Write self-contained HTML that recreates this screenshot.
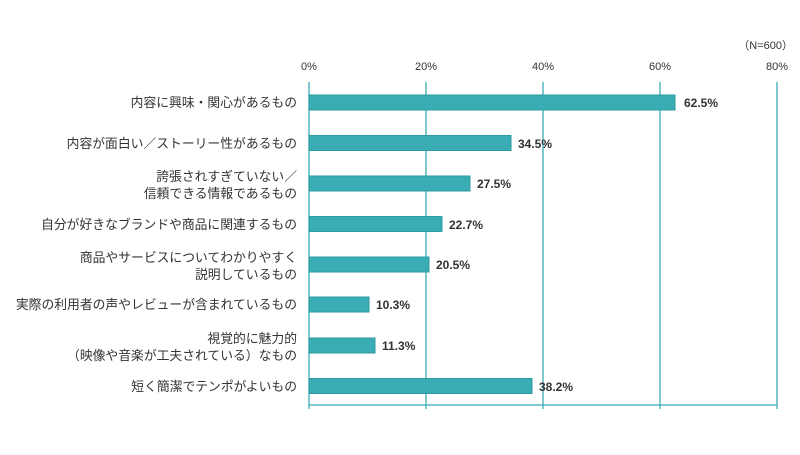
<!DOCTYPE html>
<html><head><meta charset="utf-8"><style>
body{margin:0;background:#fff;width:800px;height:450px;overflow:hidden;font-family:"Liberation Sans","Noto Sans CJK JP",sans-serif;}
</style></head><body>
<svg width="800" height="450" xmlns="http://www.w3.org/2000/svg" font-family="Liberation Sans, Noto Sans CJK JP, sans-serif">
<text x="793" y="49" font-size="11" fill="#333" text-anchor="end">（N=600）</text>
<g font-size="11" fill="#333" text-anchor="middle">
<text x="309" y="70">0%</text><text x="426" y="70">20%</text><text x="543" y="70">40%</text><text x="660" y="70">60%</text><text x="777" y="70">80%</text>
</g>
<g stroke="#3aacb4" stroke-width="1.3">
<line x1="309" y1="82" x2="309" y2="409"/><line x1="426" y1="82" x2="426" y2="409"/><line x1="543" y1="82" x2="543" y2="409"/><line x1="660" y1="82" x2="660" y2="409"/><line x1="777" y1="82" x2="777" y2="409"/>
<line x1="309" y1="405" x2="777" y2="405"/>
</g>
<g fill="#3aacb4" stroke="#2e9aa2" stroke-width="1">
<rect x="309" y="95" width="366" height="15"/>
<rect x="309" y="135.5" width="202" height="15"/>
<rect x="309" y="176" width="161" height="15"/>
<rect x="309" y="216.5" width="133" height="15"/>
<rect x="309" y="257" width="120" height="15"/>
<rect x="309" y="297" width="60" height="15"/>
<rect x="309" y="338" width="66" height="15"/>
<rect x="309" y="378.5" width="223" height="15"/>
</g>
<g font-size="12" font-weight="bold" fill="#333">
<text x="684" y="107">62.5%</text><text x="518" y="148">34.5%</text><text x="477" y="188">27.5%</text><text x="449" y="229">22.7%</text><text x="436" y="269">20.5%</text><text x="376" y="309">10.3%</text><text x="382" y="350">11.3%</text><text x="539" y="391">38.2%</text>
</g>
<g font-size="12.8" fill="#333" text-anchor="end">
<text x="297" y="107">内容に興味・関心があるもの</text>
<text x="297" y="148">内容が面白い／ストーリー性があるもの</text>
<text x="297" y="181">誇張されすぎていない／</text>
<text x="297" y="198">信頼できる情報であるもの</text>
<text x="297" y="229">自分が好きなブランドや商品に関連するもの</text>
<text x="297" y="262">商品やサービスについてわかりやすく</text>
<text x="297" y="279">説明しているもの</text>
<text x="297" y="309">実際の利用者の声やレビューが含まれているもの</text>
<text x="297" y="343">視覚的に魅力的</text>
<text x="297" y="360">（映像や音楽が工夫されている）なもの</text>
<text x="297" y="391">短く簡潔でテンポがよいもの</text>
</g>
</svg>
</body></html>
